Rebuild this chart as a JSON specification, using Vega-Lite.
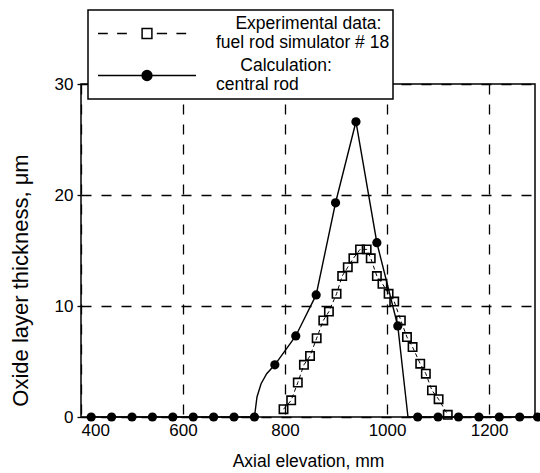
{
  "$schema": "https://vega.github.io/schema/vega-lite/v6.json",
  "width": 454,
  "height": 333,
  "autosize": "none",
  "padding": {"left": 81, "top": 84, "right": 5, "bottom": 56},
  "background": "white",
  "config": {
    "font": "Liberation Sans",
    "view": {"stroke": "black", "strokeWidth": 1.5},
    "axis": {"labelColor": "black", "titleColor": "black", "titleFontWeight": "normal", "gridColor": "black", "gridOpacity": 1, "gridDash": [10, 10], "gridWidth": 1.3, "domain": false, "tickColor": "black"},
    "legend": {"fillColor": "white", "strokeColor": "black", "strokeWidth": 1.5, "padding": 3, "labelFontSize": 17.5, "labelLineHeight": 21, "labelBaseline": "line-bottom", "labelLimit": 0, "labelColor": "black", "clipHeight": 41, "rowPadding": 1, "symbolOffset": 6, "labelOffset": 19, "symbolSize": 9604, "symbolStrokeWidth": 1.5, "symbolOpacity": 1}
  },
  "data": {
    "values": [
      {"x": 420, "y": 0, "series": "Calculation: central rod", "marker": true},
      {"x": 460, "y": 0, "series": "Calculation: central rod", "marker": true},
      {"x": 500, "y": 0, "series": "Calculation: central rod", "marker": true},
      {"x": 540, "y": 0, "series": "Calculation: central rod", "marker": true},
      {"x": 580, "y": 0, "series": "Calculation: central rod", "marker": true},
      {"x": 620, "y": 0, "series": "Calculation: central rod", "marker": true},
      {"x": 660, "y": 0, "series": "Calculation: central rod", "marker": true},
      {"x": 700, "y": 0, "series": "Calculation: central rod", "marker": true},
      {"x": 740, "y": 0, "series": "Calculation: central rod", "marker": true},
      {"x": 745, "y": 1.8, "series": "Calculation: central rod", "marker": false},
      {"x": 753, "y": 3.0, "series": "Calculation: central rod", "marker": false},
      {"x": 764, "y": 3.9, "series": "Calculation: central rod", "marker": false},
      {"x": 780, "y": 4.7, "series": "Calculation: central rod", "marker": true},
      {"x": 821, "y": 7.3, "series": "Calculation: central rod", "marker": true},
      {"x": 861, "y": 11.0, "series": "Calculation: central rod", "marker": true},
      {"x": 899, "y": 19.3, "series": "Calculation: central rod", "marker": true},
      {"x": 939, "y": 26.6, "series": "Calculation: central rod", "marker": true},
      {"x": 980, "y": 15.7, "series": "Calculation: central rod", "marker": true},
      {"x": 1021, "y": 8.2, "series": "Calculation: central rod", "marker": true},
      {"x": 1041, "y": 0, "series": "Calculation: central rod", "marker": false},
      {"x": 1060, "y": 0, "series": "Calculation: central rod", "marker": true},
      {"x": 1100, "y": 0, "series": "Calculation: central rod", "marker": true},
      {"x": 1140, "y": 0, "series": "Calculation: central rod", "marker": true},
      {"x": 1180, "y": 0, "series": "Calculation: central rod", "marker": true},
      {"x": 1220, "y": 0, "series": "Calculation: central rod", "marker": true},
      {"x": 1260, "y": 0, "series": "Calculation: central rod", "marker": true},
      {"x": 1295, "y": 0, "series": "Calculation: central rod", "marker": true},
      {"x": 797, "y": 0.7, "series": "Experimental data: fuel rod simulator # 18", "marker": true},
      {"x": 812, "y": 1.5, "series": "Experimental data: fuel rod simulator # 18", "marker": true},
      {"x": 825, "y": 3.1, "series": "Experimental data: fuel rod simulator # 18", "marker": true},
      {"x": 837, "y": 4.7, "series": "Experimental data: fuel rod simulator # 18", "marker": true},
      {"x": 849, "y": 5.5, "series": "Experimental data: fuel rod simulator # 18", "marker": true},
      {"x": 862, "y": 7.1, "series": "Experimental data: fuel rod simulator # 18", "marker": true},
      {"x": 875, "y": 8.7, "series": "Experimental data: fuel rod simulator # 18", "marker": true},
      {"x": 886, "y": 9.5, "series": "Experimental data: fuel rod simulator # 18", "marker": true},
      {"x": 901, "y": 11.1, "series": "Experimental data: fuel rod simulator # 18", "marker": true},
      {"x": 912, "y": 12.7, "series": "Experimental data: fuel rod simulator # 18", "marker": true},
      {"x": 923, "y": 13.5, "series": "Experimental data: fuel rod simulator # 18", "marker": true},
      {"x": 934, "y": 14.3, "series": "Experimental data: fuel rod simulator # 18", "marker": true},
      {"x": 947, "y": 15.1, "series": "Experimental data: fuel rod simulator # 18", "marker": true},
      {"x": 960, "y": 15.1, "series": "Experimental data: fuel rod simulator # 18", "marker": true},
      {"x": 968, "y": 14.3, "series": "Experimental data: fuel rod simulator # 18", "marker": true},
      {"x": 980, "y": 12.7, "series": "Experimental data: fuel rod simulator # 18", "marker": true},
      {"x": 991, "y": 12.0, "series": "Experimental data: fuel rod simulator # 18", "marker": true},
      {"x": 1003, "y": 11.1, "series": "Experimental data: fuel rod simulator # 18", "marker": true},
      {"x": 1014, "y": 10.4, "series": "Experimental data: fuel rod simulator # 18", "marker": true},
      {"x": 1027, "y": 8.7, "series": "Experimental data: fuel rod simulator # 18", "marker": true},
      {"x": 1039, "y": 7.2, "series": "Experimental data: fuel rod simulator # 18", "marker": true},
      {"x": 1050, "y": 6.3, "series": "Experimental data: fuel rod simulator # 18", "marker": true},
      {"x": 1065, "y": 4.8, "series": "Experimental data: fuel rod simulator # 18", "marker": true},
      {"x": 1076, "y": 3.9, "series": "Experimental data: fuel rod simulator # 18", "marker": true},
      {"x": 1088, "y": 2.4, "series": "Experimental data: fuel rod simulator # 18", "marker": true},
      {"x": 1101, "y": 1.6, "series": "Experimental data: fuel rod simulator # 18", "marker": true},
      {"x": 1119, "y": 0.2, "series": "Experimental data: fuel rod simulator # 18", "marker": true}
    ]
  },
  "encoding": {
    "x": {"field": "x", "type": "quantitative", "scale": {"domain": [400, 1290], "nice": false, "zero": false},
      "axis": {"title": "Axial elevation, mm", "values": [400, 600, 800, 1000, 1200], "format": "d", "ticks": false, "tickSize": 0, "labelFontSize": 17, "labelPadding": 5, "titleFontSize": 17.5, "titlePadding": 14}},
    "y": {"field": "y", "type": "quantitative", "scale": {"domain": [0, 30], "nice": false},
      "axis": {"title": "Oxide layer thickness, μm", "values": [0, 10, 20, 30], "tickSize": 4, "tickWidth": 1.3, "labelFontSize": 17, "labelPadding": 4, "titleFontSize": 22, "titlePadding": 22, "titleY": 196}}
  },
  "layer": [
    {
      "transform": [{"filter": "datum.series == 'Experimental data: fuel rod simulator # 18'"}],
      "mark": {"type": "line", "color": "black", "strokeWidth": 1, "strokeDash": [4, 3]},
      "encoding": {}
    },
    {
      "transform": [{"filter": "datum.series == 'Calculation: central rod'"}],
      "mark": {"type": "line", "color": "black", "strokeWidth": 1.4},
      "encoding": {}
    },
    {
      "transform": [{"filter": "datum.series == 'Experimental data: fuel rod simulator # 18'"}],
      "mark": {"type": "point", "shape": "square", "filled": false, "color": "black", "opacity": 1, "strokeWidth": 1.6, "size": 70},
      "encoding": {}
    },
    {
      "transform": [{"filter": "datum.series == 'Calculation: central rod' && datum.marker"}],
      "mark": {"type": "point", "shape": "circle", "filled": true, "color": "black", "opacity": 1, "size": 85},
      "encoding": {}
    },
    {
      "transform": [{"filter": "datum.marker"}],
      "mark": {"type": "point", "filled": true, "opacity": 0, "stroke": "black", "strokeWidth": 1.5},
      "encoding": {
        "shape": {"field": "series", "type": "nominal",
          "scale": {"domain": ["Experimental data: fuel rod simulator # 18", "Calculation: central rod"],
            "range": ["M-1,0H-0.8M-0.61,0H-0.41M0.2,0H0.41M0.6,0H0.8M-0.1,-0.1H0.1V0.1H-0.1Z", "M-1,0H1M-0.1,0A0.1,0.1 0 1,0 0.1,0A0.1,0.1 0 1,0 -0.1,0Z"]},
          "legend": {"title": null, "orient": "none", "legendX": 7, "legendY": -74,
            "labelExpr": "datum.label == 'Calculation: central rod' ? ['\u200b\u00a0\u00a0\u00a0\u00a0\u00a0Calculation:', 'central rod'] : ['\u200b\u00a0\u00a0\u00a0\u00a0Experimental data:', 'fuel rod simulator # 18']"}
        },
        "fill": {"field": "series", "type": "nominal",
          "scale": {"domain": ["Experimental data: fuel rod simulator # 18", "Calculation: central rod"], "range": ["white", "black"]},
          "legend": {"title": null, "orient": "none", "legendX": 7, "legendY": -74,
            "labelExpr": "datum.label == 'Calculation: central rod' ? ['\u200b\u00a0\u00a0\u00a0\u00a0\u00a0Calculation:', 'central rod'] : ['\u200b\u00a0\u00a0\u00a0\u00a0Experimental data:', 'fuel rod simulator # 18']"}
        },
        "stroke": {"field": "series", "type": "nominal",
          "scale": {"domain": ["Experimental data: fuel rod simulator # 18", "Calculation: central rod"], "range": ["black", "black"]},
          "legend": {"title": null, "orient": "none", "legendX": 7, "legendY": -74,
            "labelExpr": "datum.label == 'Calculation: central rod' ? ['\u200b\u00a0\u00a0\u00a0\u00a0\u00a0Calculation:', 'central rod'] : ['\u200b\u00a0\u00a0\u00a0\u00a0Experimental data:', 'fuel rod simulator # 18']"}
        }
      }
    }
  ]
}
